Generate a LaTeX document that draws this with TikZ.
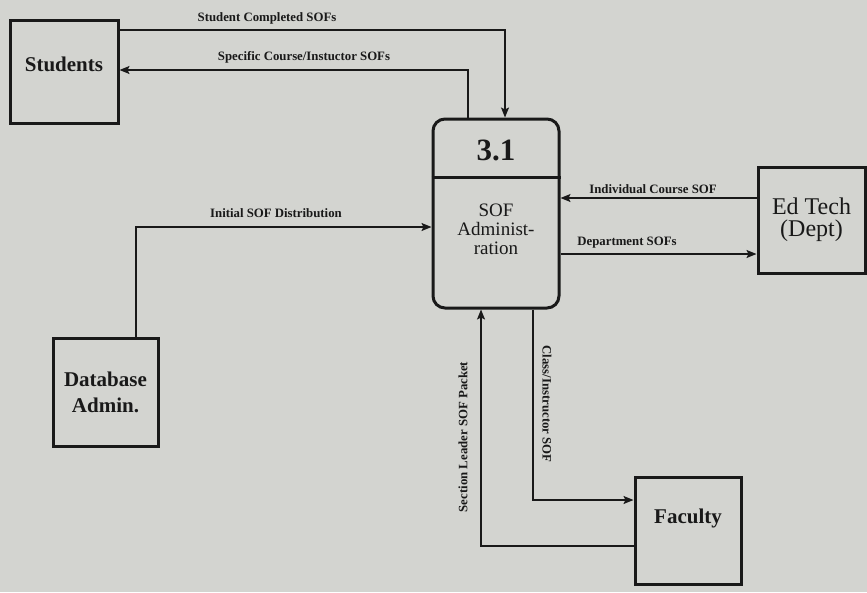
\documentclass[tikz,border=0pt]{standalone}
\usepackage{fontspec}
\setmainfont{Liberation Serif}
\usetikzlibrary{arrows.meta}
\definecolor{bg}{RGB}{211,212,208}
\definecolor{ink}{RGB}{25,25,25}
\begin{document}
\begin{tikzpicture}[x=1pt,y=-1pt,
  entity/.style={draw=ink,line width=3pt,rectangle,inner sep=0pt,align=center},
  procbox/.style={draw=ink,line width=3pt,rectangle,rounded corners=12pt,inner sep=0pt,
    minimum width=126pt,minimum height=189pt},
  flow/.style={draw=ink,line width=1.4pt,-{Stealth[length=10pt,width=8pt,inset=2pt]}},
  flowlabel/.style={font=\bfseries\fontsize{12.8}{13}\selectfont,inner sep=0pt,text=ink}]
\fill[bg] (0,0) rectangle (867,592);
\useasboundingbox (0,0) rectangle (867,592);

% entities
\node[entity,minimum width=108pt,minimum height=103pt] (students) at (64,71.5) {};
\node[font=\bfseries\fontsize{21}{22}\selectfont,text=ink] (studentstxt) at (64,64) {Students};

\node[entity,minimum width=105pt,minimum height=108pt,
  font=\bfseries\fontsize{21}{26}\selectfont,text=ink] (db) at (105.5,392) {Database\\Admin.};

\node[entity,minimum width=107pt,minimum height=106pt,
  font=\fontsize{24}{22}\selectfont,text=ink] (edtech) at (811.5,220) {Ed Tech\\(Dept)};

\node[entity,minimum width=106pt,minimum height=107pt] (faculty) at (688,530.5) {};
\node[font=\bfseries\fontsize{21}{22}\selectfont,text=ink] (facultytxt) at (688,518) {Faculty};

% process
\node[procbox] (proc) at (496,213.5) {};
\draw[draw=ink,line width=3pt] (proc.west |- 0,177) -- (proc.east |- 0,177);
\node[font=\bfseries\fontsize{31}{30}\selectfont,text=ink] (procid) at (496,150) {3.1};
\node[font=\fontsize{19}{19}\selectfont,align=center,text=ink] (procname) at (496,229.5) {SOF\\Administ-\\ration};

% connector bends
\coordinate (c1) at (505,30);
\coordinate (c2) at (468,70);
\coordinate (c3) at (136,227);
\coordinate (c4) at (660,198);
\coordinate (c5) at (660,254);
\coordinate (c6) at (533,500);
\coordinate (c7) at (481,546);

\draw[flow] (students.east |- c1) -- (c1) -- (c1 |- proc.north);
\draw[flow] (c2 |- proc.north) -- (c2) -- (students.east |- c2);
\draw[flow] (c3 |- db.north) -- (c3) -- (proc.west |- c3);
\draw[flow] (edtech.west |- c4) -- (proc.east |- c4);
\draw[flow] (proc.east |- c5) -- (edtech.west |- c5);
\draw[flow] (c6 |- proc.south) -- (c6) -- (faculty.west |- c6);
\draw[flow] (faculty.west |- c7) -- (c7) -- (c7 |- proc.south);

% labels
\node[flowlabel] (l1) at (267,18) {Student Completed SOFs};
\node[flowlabel] (l2) at (304,57) {Specific Course/Instuctor SOFs};
\node[flowlabel] (l3) at (276,213) {Initial SOF Distribution};
\node[flowlabel] (l4) at (653,189) {Individual Course SOF};
\node[flowlabel] (l5) at (627,243) {Department SOFs};
\node[flowlabel,rotate=-90] (l6) at (547,404) {Class/Instructor SOF};
\node[flowlabel,rotate=90] (l7) at (463,437) {Section Leader SOF Packet};
\end{tikzpicture}
\end{document}
